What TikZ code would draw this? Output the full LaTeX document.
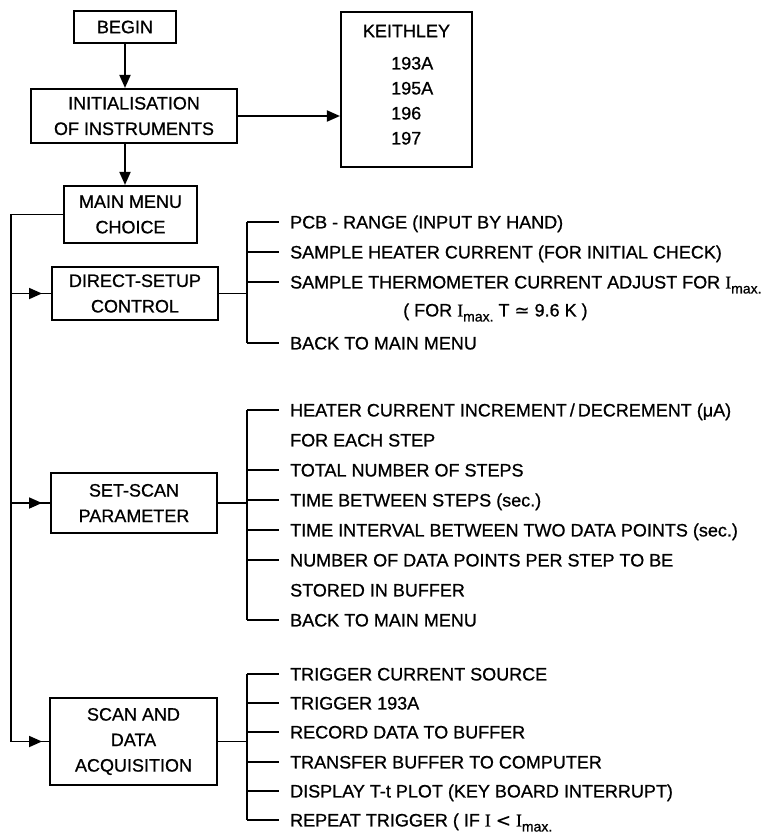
\documentclass[tikz,border=0pt]{standalone}
\usepackage{fontspec}
\setmainfont{Liberation Sans}[FakeBold=0.8]
\newfontfamily\symf{DejaVu Sans}[FakeBold=0.5]
\newfontfamily\serf{Liberation Serif}[FakeBold=0.8]
\usetikzlibrary{arrows.meta,decorations.markings}
\newcommand{\Imx}{{\serf I}\raisebox{-5pt}{\fontsize{14}{14}\selectfont max.}}
\begin{document}
\begin{tikzpicture}[x=1pt,y=-1pt,
  font=\fontsize{18}{25.5}\selectfont,
  box/.style={draw, line width=2.1pt, align=center, inner sep=0pt},
  ln/.style={line width=1.8pt},
  arr/.style={ln, -{Triangle[length=13pt,width=11pt]}},
  midarr/.style={ln, postaction={decorate}, decoration={markings, mark=at position 31pt with {\arrow{Triangle[length=13pt,width=11pt]}}}},
  item/.style={anchor=west, inner xsep=11pt, inner ysep=0pt, text height=12.9pt, text depth=0pt},
  plain/.style={anchor=west, inner sep=0pt, text height=12.9pt, text depth=0pt},
]
\useasboundingbox (0,0) rectangle (772,839);

% boxes
\node[box, minimum width=102pt, minimum height=32pt] (begin) at (125,27) {BEGIN};
\node[box, minimum width=206pt, minimum height=54pt] (init) at (134,116) {INITIALISATION\\OF INSTRUMENTS};
\node[box, minimum width=131pt, minimum height=155pt] (keith) at (406.5,89.5) {};
\node[inner sep=0pt] (kt) at (406.5,31) {KEITHLEY};
\node[plain] (k1) at (391,63) {193A};
\node[plain] (k2) at (391,88) {195A};
\node[plain] (k3) at (391,113) {196};
\node[plain] (k4) at (391,138) {197};
\node[box, minimum width=133pt, minimum height=57pt] (menu) at (130.5,214.5) {MAIN MENU\\CHOICE};
\node[box, minimum width=166pt, minimum height=53pt] (dsc) at (135,293.5) {DIRECT-SETUP\\CONTROL};
\node[box, minimum width=166pt, minimum height=60pt] (ssp) at (134,503) {SET-SCAN\\PARAMETER};
\node[box, minimum width=167pt, minimum height=87pt] (sda) at (133.5,741.5) {SCAN AND\\DATA\\ACQUISITION};

% main flow
\draw[arr] (begin.south) -- (begin.south |- init.north);
\draw[arr] (init.south -| begin.south) -- (menu.north -| begin.south);
\draw[arr] (init.east) -- (init.east -| keith.west);

% bus
\coordinate (bus) at (11,0);
\draw[ln, line join=miter] (menu.west) -- (menu.west -| bus) -- (bus |- sda.west);
\draw[midarr] (bus |- dsc.west) -- (dsc.west);
\draw[midarr] (bus |- ssp.west) -- (ssp.west);
\draw[midarr] (bus |- sda.west) -- (sda.west);

\coordinate (brk) at (247,0);

% direct setup items
\node[item] (d1) at (279,222) {PCB - RANGE (INPUT BY HAND)};
\node[item] (d2) at (279,252) {SAMPLE HEATER CURRENT (FOR INITIAL CHECK)};
\node[item] (d3) at (279,282) {SAMPLE THERMOMETER CURRENT ADJUST FOR \Imx};
\node[plain] (d3b) at (403,310) {( FOR \Imx\ T {\symf ≃} 9.6 K )};
\node[item] (d4) at (279,343) {BACK TO MAIN MENU};
\draw[ln] (dsc.east) -- (dsc.east -| brk);
\draw[ln] (brk |- d1.west) -- (brk |- d4.west);
\foreach \n in {d1,d2,d3,d4} \draw[ln] (brk |- \n.west) -- (\n.west);

% set-scan items
\node[item] (s1) at (279,410) {HEATER CURRENT INCREMENT\,/\,DECREMENT (μA)};
\node[plain] (s1b) at (290,440) {FOR EACH STEP};
\node[item] (s2) at (279,470) {TOTAL NUMBER OF STEPS};
\node[item] (s3) at (279,500) {TIME BETWEEN STEPS (sec.)};
\node[item] (s4) at (279,530) {TIME INTERVAL BETWEEN TWO DATA POINTS (sec.)};
\node[item] (s5) at (279,560) {NUMBER OF DATA POINTS PER STEP TO BE};
\node[plain] (s5b) at (290,590) {STORED IN BUFFER};
\node[item] (s6) at (279,620) {BACK TO MAIN MENU};
\draw[ln] (ssp.east) -- (ssp.east -| brk);
\draw[ln] (brk |- s1.west) -- (brk |- s6.west);
\foreach \n in {s1,s2,s3,s4,s5,s6} \draw[ln] (brk |- \n.west) -- (\n.west);

% scan items
\node[item] (a1) at (279,674) {TRIGGER CURRENT SOURCE};
\node[item] (a2) at (279,703) {TRIGGER 193A};
\node[item] (a3) at (279,732) {RECORD DATA TO BUFFER};
\node[item] (a4) at (279,762) {TRANSFER BUFFER TO COMPUTER};
\node[item] (a5) at (279,791) {DISPLAY T-t PLOT (KEY BOARD INTERRUPT)};
\node[item] (a6) at (279,820) {REPEAT TRIGGER ( IF {\serf I} {\symf <} \Imx};
\draw[ln] (sda.east) -- (sda.east -| brk);
\draw[ln] (brk |- a1.west) -- (brk |- a6.west);
\foreach \n in {a1,a2,a3,a4,a5,a6} \draw[ln] (brk |- \n.west) -- (\n.west);
\end{tikzpicture}
\end{document}
